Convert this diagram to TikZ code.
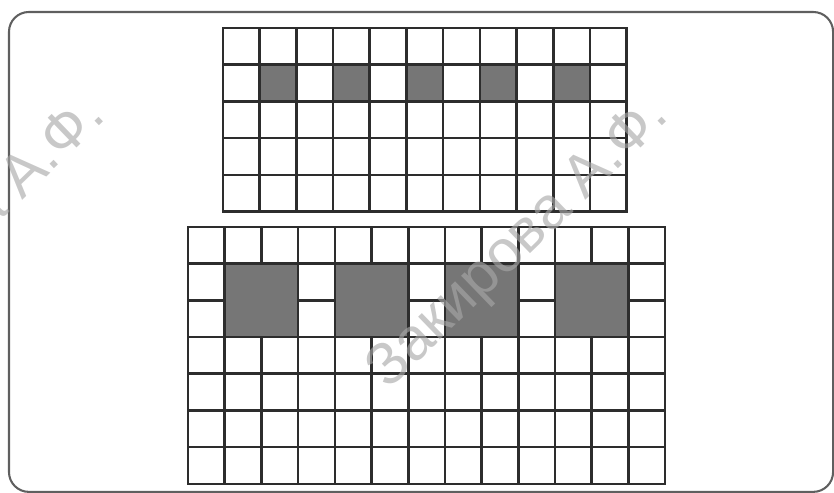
\documentclass[tikz,border=0pt]{standalone}
\usepackage{fontspec}
\newfontfamily\stampfont{Liberation Sans}
\definecolor{cellgray}{RGB}{118,118,118}
\definecolor{gridcol}{RGB}{45,45,45}
\definecolor{framegray}{RGB}{95,95,95}
\definecolor{stampgray}{RGB}{168,168,168}

\begin{document}
\begin{tikzpicture}[x=0.5cm,y=0.5cm,
    gridline/.style={draw=gridcol,line width=1pt,line cap=rect},
    shaded/.style={gridline,fill=cellgray},
    stamp/.style={font=\stampfont\fontsize{23}{23}\selectfont,text=stampgray,text opacity=0.63,rotate=44}]
  \useasboundingbox (0,0) rectangle (22.725,13.433);
  \draw[framegray,line width=0.8pt,rounded corners=0.27cm] (0.245,0.03) rectangle (22.70,13.106);

  \begin{scope}[shift={(6.076,7.67)}]
    \foreach \y in {0,...,5} \draw[gridline] (0,\y) -- (11,\y);
    \foreach \x in {0,...,11} \draw[gridline] (\x,0) -- (\x,5);
    \foreach \i in {1,3,...,9} \filldraw[shaded] (\i,3) rectangle ++(1,1);
  \end{scope}
  \begin{scope}[shift={(5.123,0.25)}]
    \foreach \y in {0,...,7} \draw[gridline] (0,\y) -- (13,\y);
    \foreach \x in {0,...,13} \draw[gridline] (\x,0) -- (\x,7);
    \foreach \i in {1,4,7,10} \filldraw[shaded] (\i,4) rectangle ++(2,2);
  \end{scope}

  \begin{scope}
    \clip (0,0) rectangle (22.725,13.433);
    \node[stamp] (stampA) at (14.15,6.78) {Закирова А.Ф.};
    \node[stamp] (stampB) at (-1.2,6.78) {Закирова А.Ф.};
  \end{scope}
\end{tikzpicture}
\end{document}
